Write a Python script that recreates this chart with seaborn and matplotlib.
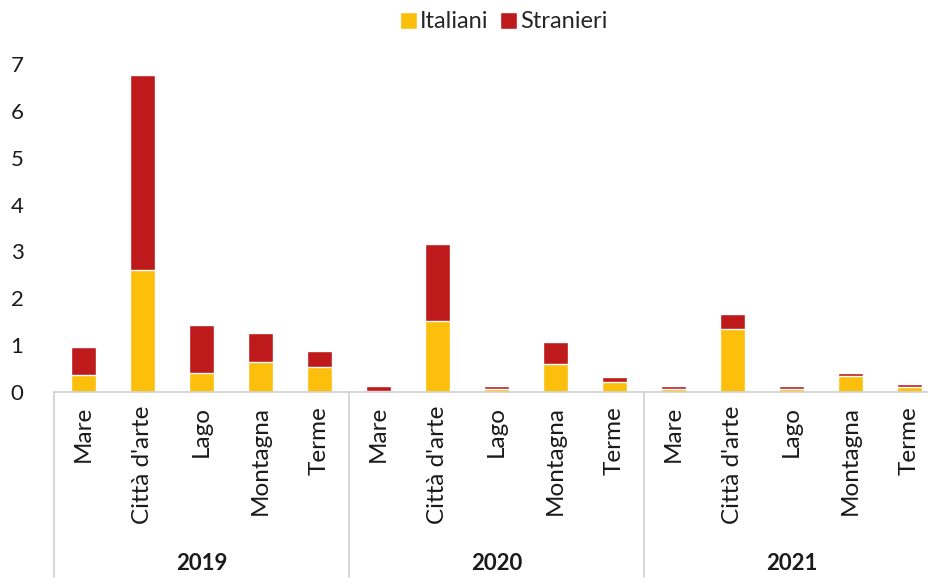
import pandas as pd
import numpy as np
import matplotlib.pyplot as plt
import seaborn as sns

# Values
years = ['2019', '2020', '2021']
destinations = ['Mare', "Città d'arte", 'Lago', 'Montagna', 'Terme']
italiani = [0.36, 2.60, 0.41, 0.64, 0.54,
            0.02, 1.52, 0.07, 0.60, 0.21,
            0.07, 1.34, 0.07, 0.35, 0.11]
stranieri = [0.60, 4.16, 1.02, 0.62, 0.33,
             0.11, 1.64, 0.05, 0.46, 0.10,
             0.05, 0.32, 0.05, 0.05, 0.06]

yellow = '#FCBF0B'
red = '#BF1A1B'

sns.set_theme(style='white')
plt.rcParams['font.family'] = ['Lato', 'DejaVu Sans']

df = pd.DataFrame({
    'key': [f'{y}|{d}' for y in years for d in destinations],
    'label': [d for y in years for d in destinations],
    'Italiani': italiani,
    'Stranieri': stranieri,
})
df['Totale'] = df['Italiani'] + df['Stranieri']

fig = plt.figure(figsize=(9.29, 5.78), dpi=100)
# axes extends slightly past the right edge, like the cropped original
ax = fig.add_axes([54 / 929, 186 / 578, 885 / 929, 328 / 578])

sns.barplot(data=df, x='key', y='Totale', color=red, width=0.41,
            saturation=1, ax=ax, label='Stranieri')
sns.barplot(data=df, x='key', y='Italiani', color=yellow, width=0.41,
            saturation=1, ax=ax, label='Italiani')

ax.set_xlim(-0.5, len(df) - 0.5)
ax.set_ylim(0, 7)
ax.set_yticks(range(0, 8))
ax.tick_params(axis='y', labelsize=16, pad=22, length=0, colors='#1a1a1a')
ax.set_xticks(range(len(df)))
ax.set_xticklabels(df['label'], rotation=90, fontsize=17.5, color='#1a1a1a')
ax.tick_params(axis='x', length=0, pad=10)
ax.set_xlabel('')
ax.set_ylabel('')

for s in ['top', 'right', 'left']:
    ax.spines[s].set_visible(False)
ax.spines['bottom'].set_color('#d0d0d0')
ax.spines['bottom'].set_linewidth(1.2)

# group separators and year labels below the axis
n = len(destinations)
for i in range(len(years) + 1):
    x = i * n - 0.5
    ax.plot([x, x], [0, -0.47 * 8.4], color='#d0d0d0', lw=1.2,
            clip_on=False, transform=ax.transData)
for i, y in enumerate(years):
    ax.text(i * n + (n - 1) / 2, -3.66, y, ha='center', va='center',
            fontsize=16, fontweight='bold', color='#1a1a1a')

handles, labels = ax.get_legend_handles_labels()
order = [labels.index('Italiani'), labels.index('Stranieri')]
ax.legend([handles[k] for k in order], [labels[k] for k in order],
          loc='center', bbox_to_anchor=(504 / 929, 556 / 578),
          bbox_transform=fig.transFigure, ncol=2, frameon=False,
          fontsize=17, handlelength=0.7, handleheight=0.7,
          handletextpad=0.15, columnspacing=0.5)

fig.savefig('out.png', dpi=100)
